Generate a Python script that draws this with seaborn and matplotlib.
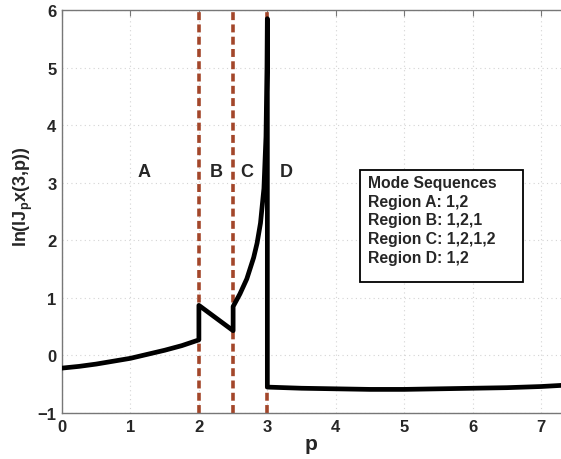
import numpy as np
import pandas as pd
import matplotlib
matplotlib.use("Agg")
import matplotlib.pyplot as plt
from matplotlib.patches import Rectangle
import seaborn as sns

# Region A: smooth rise from p = 0 to p = 2
p_a = [0.0, 0.25, 0.5, 0.75, 1.0, 1.25, 1.5, 1.75, 2.0]
y_a = [-0.22, -0.19, -0.15, -0.10, -0.05, 0.02, 0.09, 0.17, 0.27]
# Region B: jump at p = 2, then linear decay to p = 2.5
p_b = [2.0, 2.5]
y_b = [0.87, 0.43]
# Region C: jump at p = 2.5, blow-up towards p = 3
p_c = [2.5, 2.6, 2.7, 2.8, 2.85, 2.9, 2.95, 2.98, 2.995, 3.0]
y_c = [0.85, 1.07, 1.33, 1.70, 1.95, 2.30, 2.90, 3.80, 5.00, 5.85]
# Region D: drop at p = 3, nearly flat afterwards
p_d = [3.0, 3.5, 4.0, 4.5, 5.0, 5.5, 6.0, 6.5, 7.0, 7.3]
y_d = [-0.55, -0.57, -0.58, -0.59, -0.59, -0.58, -0.57, -0.56, -0.54, -0.52]

boundaries = [2.0, 2.5, 3.0]
region_names = ["A", "B", "C", "D"]
region_label_p = [1.2, 2.25, 2.7, 3.27]
region_label_y = 3.2

legend_lines = ["Mode Sequences", "Region A: 1,2", "Region B: 1,2,1",
                "Region C: 1,2,1,2", "Region D: 1,2"]

xticks = [0, 1, 2, 3, 4, 5, 6, 7]
yticks = [-1, 0, 1, 2, 3, 4, 5, 6]

sns.set_style("white")
plt.rcParams["font.family"] = ["Liberation Sans", "DejaVu Sans"]
plt.rcParams["mathtext.fontset"] = "custom"
plt.rcParams["mathtext.bf"] = "Liberation Sans:bold"
plt.rcParams["mathtext.rm"] = "Liberation Sans:bold"
plt.rcParams["mathtext.it"] = "Liberation Sans:bold"

df = pd.DataFrame({
    "p": p_a + p_b + p_c + p_d,
    "val": y_a + y_b + y_c + y_d,
})

fig = plt.figure(figsize=(5.61, 4.60), dpi=100)
ax = fig.add_axes([0.1105, 0.10, 0.8895, 0.876])

ax.grid(True, color="#d4d4d4", linestyle=(0, (1, 3)), linewidth=0.8)
ax.set_axisbelow(True)

for b in boundaries:
    ax.axvline(b, color="#a3462a", linestyle=(0, (2.2, 1.2)), linewidth=2.6, zorder=2)

sns.lineplot(data=df, x="p", y="val", sort=False, estimator=None,
             color="black", linewidth=3.4, ax=ax, zorder=3)

for name, px in zip(region_names, region_label_p):
    ax.text(px, region_label_y, name, fontsize=13, fontweight="bold",
            ha="center", va="center")

# annotation box with the mode sequences
ax.add_patch(Rectangle((4.357, 1.27), 2.383, 1.95, facecolor="white",
                       edgecolor="black", linewidth=1.3, zorder=4))
ax.text(4.47, 3.13, "\n".join(legend_lines), fontsize=11.3, fontweight="bold",
        ha="left", va="top", linespacing=1.3, zorder=5)

ax.set_xlim(0, 7.29)
ax.set_ylim(-1, 6)
ax.set_xticks(xticks)
ax.set_yticks(yticks)
ax.set_xticklabels([str(t) for t in xticks], fontsize=12, fontweight="bold")
ax.set_yticklabels(["\u22121" if t < 0 else str(t) for t in yticks],
                   fontsize=12, fontweight="bold")
ax.tick_params(direction="in", length=4, color="#777777", top=True,
               pad=4)
ax.set_xlabel("p", fontsize=15, fontweight="bold", labelpad=0)
ax.set_ylabel(r"ln(lJ$_{\mathbf{p}}$x(3,p))", fontsize=13, fontweight="bold")
ax.yaxis.set_label_coords(-0.055, 0.54)

for side in ["left", "bottom", "top"]:
    ax.spines[side].set_color("#777777")
    ax.spines[side].set_linewidth(1.0)
ax.spines["right"].set_visible(False)

fig.savefig("out.png", dpi=100)
